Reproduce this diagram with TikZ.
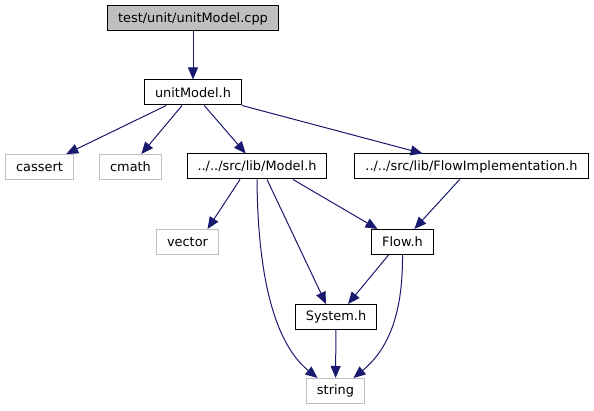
\documentclass[tikz,border=0pt]{standalone}
\usepackage{fontspec}
\setmainfont{DejaVu Sans}
\usepackage{xcolor}
\usepackage{tikz}
\usetikzlibrary{positioning, arrows.meta, calc}
\definecolor{edgeblue}{RGB}{25,25,112}
\definecolor{sysgray}{RGB}{191,191,191}
\tikzset{
  fnode/.style={draw, line width=1pt, align=center, font=\fontsize{12.9}{15}\selectfont, inner xsep=10.5pt, inner ysep=0pt, minimum height=25pt},
  root/.style={fnode, fill=sysgray},
  hdr/.style={fnode, fill=white},
  sys/.style={fnode, draw=sysgray},
  inc/.style={-{Triangle[length=12pt, width=10pt]}, line width=1pt, draw=edgeblue},
}
\begin{document}
\begin{tikzpicture}[x=1pt, y=-1pt]
  \useasboundingbox (0,0) rectangle (594,411);
  \node[root] (cpp) at (193,18.5) {test/unit/unitModel.cpp};
  \node[hdr] (um) at (193,92.5) {unitModel.h};
  \node[sys] (cassert) at (39.5,167) {cassert};
  \node[sys] (cmath) at (130.5,167) {cmath};
  \node[hdr] (model) at (257,166.5) {../../src/lib/Model.h};
  \node[hdr] (flowimpl) at (471.5,166.5) {../../src/lib/FlowImplementation.h};
  \node[sys] (vector) at (187.5,242) {vector};
  \node[hdr] (flow) at (402.5,242) {Flow.h};
  \node[hdr] (system) at (336,317) {System.h};
  \node[sys] (string) at (335.5,391) {string};
  \draw[inc] (cpp) -- (um);
  \draw[inc] (um) -- (cassert);
  \draw[inc] (um) -- (cmath);
  \draw[inc] (um) -- (model);
  \draw[inc] (um) -- (flowimpl);
  \draw[inc] ([xshift=-17pt]model.south) -- ([xshift=20pt]vector.north);
  \draw[inc] ([xshift=36pt]model.south) -- ([xshift=-25pt]flow.north);
  \draw[inc] ([xshift=10pt]model.south) -- ([xshift=-10pt]system.north);
  \draw[inc] (model.south) .. controls (258,300) and (283,350) .. ([xshift=-18pt]string.north);
  \draw[inc] (flowimpl) -- (flow);
  \draw[inc] ([xshift=-14pt]flow.south) -- ([xshift=12pt]system.north);
  \draw[inc] (flow.south) .. controls (403,320) and (385,352) .. ([xshift=18pt]string.north);
  \draw[inc] (system) -- (string);
\end{tikzpicture}
\end{document}
